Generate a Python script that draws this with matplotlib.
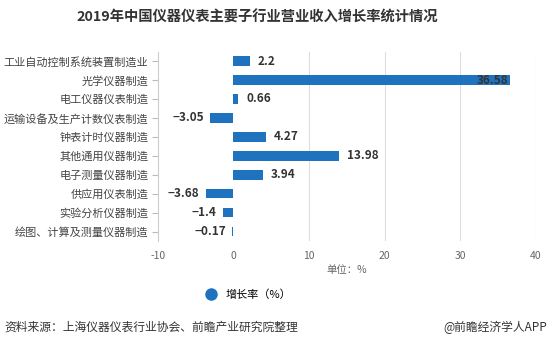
import matplotlib
matplotlib.use('Agg')
import matplotlib.pyplot as plt
from matplotlib.lines import Line2D

plt.rcParams['font.family'] = ['Noto Sans CJK SC', 'DejaVu Sans']
plt.rcParams['axes.unicode_minus'] = False

categories = ['工业自动控制系统装置制造业', '光学仪器制造', '电工仪器仪表制造',
              '运输设备及生产计数仪表制造', '钟表计时仪器制造', '其他通用仪器制造',
              '电子测量仪器制造', '供应用仪表制造', '实验分析仪器制造',
              '绘图、计算及测量仪器制造']
growth = [2.2, 36.58, 0.66, -3.05, 4.27, 13.98, 3.94, -3.68, -1.4, -0.17]
xticks = [-10, 0, 10, 20, 30, 40]

bar_color = '#1f73be'

fig = plt.figure(figsize=(5.52, 3.44), dpi=100)
ax = fig.add_axes([0.286, 0.299, 0.685, 0.551])

y = list(range(len(categories)))
ax.barh(y, growth, height=0.5, color=bar_color, zorder=3)

# value labels
for yi, v in zip(y, growth):
    txt = ('%g' % v).replace('-', '\u2212')
    if v > 30:
        ax.text(v - 0.3, yi, txt, ha='right', va='center', fontsize=8.5,
                color='#333333', fontweight='bold', zorder=4)
    elif v >= 0:
        ax.text(v + 1.0, yi, txt, ha='left', va='center', fontsize=8.5,
                color='#333333', fontweight='bold')
    else:
        ax.text(v - 0.8, yi, txt, ha='right', va='center', fontsize=8.5,
                color='#333333', fontweight='bold')

ax.set_xlim(-10, 40)
ax.set_ylim(len(categories) - 0.5, -0.5)
ax.set_yticks(y)
ax.set_yticklabels(categories, fontsize=8, color='#444444')
ax.set_xticks(xticks)
ax.set_xticklabels([str(t) for t in xticks], fontsize=7.5, color='#666666')
ax.tick_params(axis='y', length=4, color='#bbbbbb', pad=3)
ax.tick_params(axis='x', length=0, pad=7)

for t in xticks[1:]:
    if t != 0:
        ax.axvline(t, color='#dddddd', linewidth=0.8, zorder=1)

for s in ['top', 'right', 'bottom']:
    ax.spines[s].set_visible(False)
ax.spines['left'].set_color('#cccccc')
ax.spines['left'].set_linewidth(0.8)

ax.set_xlabel('单位：%', fontsize=7.5, color='#666666', labelpad=3)

handle = Line2D([], [], marker='o', linestyle='none', markersize=8,
                markerfacecolor=bar_color, markeredgecolor=bar_color)
fig.legend([handle], ['增长率（%）'], loc='center', bbox_to_anchor=(0.445, 0.143),
           frameon=False, fontsize=8, handletextpad=0.3)

fig.text(0.466, 0.95, '2019年中国仪器仪表主要子行业营业收入增长率统计情况',
         ha='center', va='center', fontsize=10.3, fontweight='bold', color='#333333')
fig.text(0.008, 0.048, '资料来源：上海仪器仪表行业协会、前瞻产业研究院整理',
         ha='left', va='center', fontsize=8.5, color='#333333')
fig.text(0.992, 0.048, '@前瞻经济学人APP', ha='right', va='center',
         fontsize=8.5, color='#333333')

fig.savefig('out.png', dpi=100, facecolor='white')
